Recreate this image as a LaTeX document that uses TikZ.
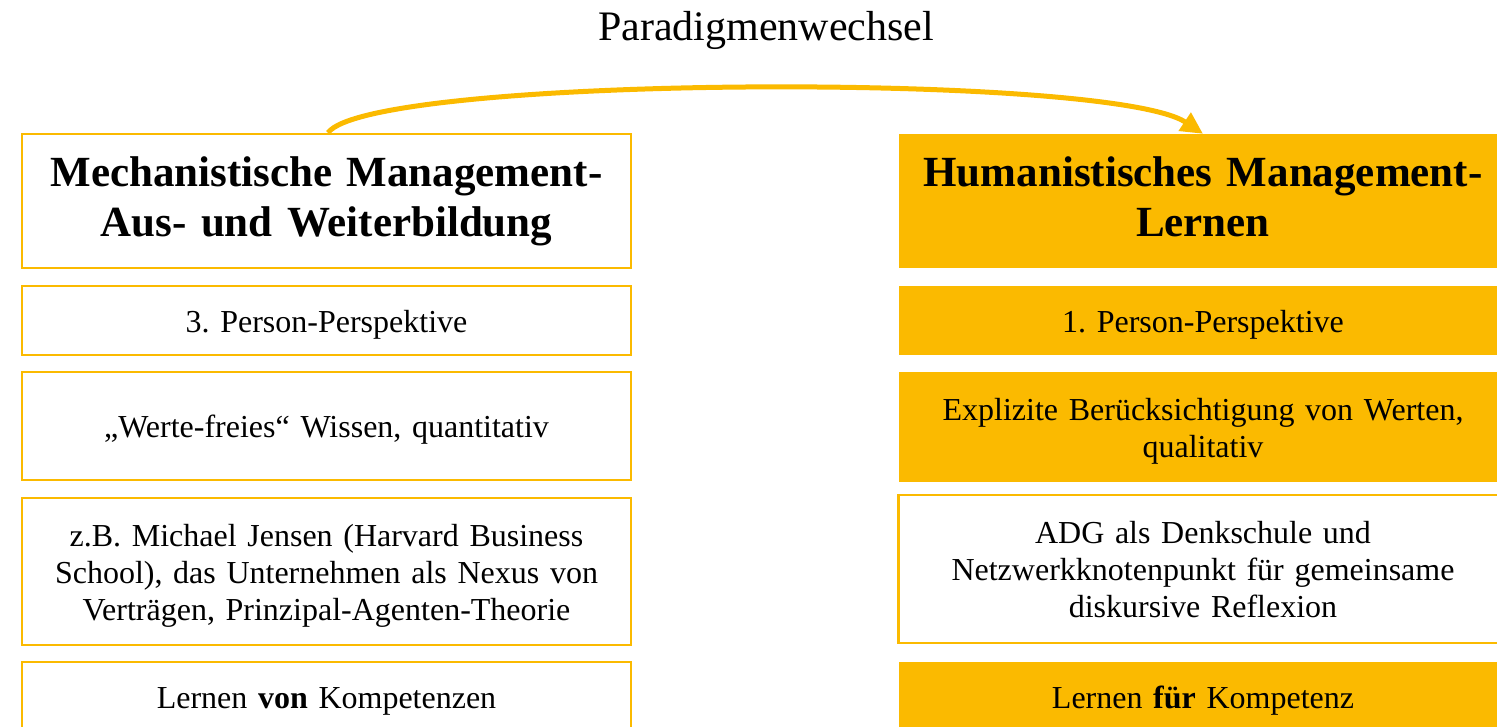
\documentclass[tikz,border=0pt]{standalone}
\usepackage{fontspec}
\setmainfont{Liberation Serif}
\usetikzlibrary{arrows.meta}
\definecolor{gold}{RGB}{251,186,0}

% invisible rules that fix the height above the first baseline and the depth below the last one
\newcommand\cellstrut{\rule[-7pt]{0pt}{37pt}}
\newcommand\headstrut{\rule[-14pt]{0pt}{49pt}}

\tikzset{
  cell/.style={minimum width=609pt, text width=600pt, align=center, inner sep=0pt,
               font=\fontsize{32}{37}\selectfont,
               execute at begin node={\frenchspacing\lineskiplimit=-100pt\relax\cellstrut},
               execute at end node=\cellstrut},
  outlined/.style={cell, draw=gold, line width=2.5pt, fill=white},
  filled/.style={cell, fill=gold},
  head/.style={font=\bfseries\fontsize{43}{50}\selectfont,
               execute at begin node={\lineskiplimit=-100pt\relax\headstrut},
               execute at end node=\headstrut},
  shiftarrow/.style={-{Triangle[length=22pt,width=21pt]}, draw=gold, line width=5pt}
}

\begin{document}
\begin{tikzpicture}[x=1pt,y=-1pt]
  \useasboundingbox (0,0) rectangle (1497,726);
  \clip (0,0) rectangle (1497,726);

  % heading
  \node[font=\fontsize{42}{48}\selectfont, anchor=base, inner sep=0pt] (title) at (766,40) {Paradigmenwechsel};

  % left column: mechanistic view
  \node[outlined, head, minimum height=134pt] (l1) at (326.5,201) {Mechanistische Management-\\Aus- und Weiterbildung};
  \node[outlined, minimum height=69pt]  (l2) at (326.5,320.5) {3. Person-Perspektive};
  \node[outlined, minimum height=108pt] (l3) at (326.5,426) {„Werte-freies“ Wissen, quantitativ};
  \node[outlined, minimum height=147pt] (l4) at (326.5,571.5) {z.B. Michael Jensen (Harvard Business\\School), das Unternehmen als Nexus von\\Verträgen, Prinzipal-Agenten-Theorie};
  \node[outlined, minimum height=70pt]  (l5) at (326.5,697) {Lernen \textbf{von} Kompetenzen};

  % right column: humanistic view
  \node[filled, head, minimum height=134pt] (r1) at (1203,201) {Humanistisches Management-\\Lernen};
  \node[filled, minimum height=69pt]  (r2) at (1203,320.5) {1. Person-Perspektive};
  \node[filled, minimum height=110pt] (r3) at (1203,427) {Explizite Berücksichtigung von Werten,\\qualitativ};
  \node[outlined, minimum height=148pt] (r4) at (1203,569) {ADG als Denkschule und\\Netzwerkknotenpunkt für gemeinsame\\diskursive Reflexion};
  \node[filled, minimum height=70pt]  (r5) at (1203,697) {Lernen \textbf{für} Kompetenz};

  % paradigm shift arrow
  \draw[shiftarrow] ([xshift=1.5pt]l1.north) .. controls (370,75) and (1110,72) .. (r1.north);
\end{tikzpicture}
\end{document}
